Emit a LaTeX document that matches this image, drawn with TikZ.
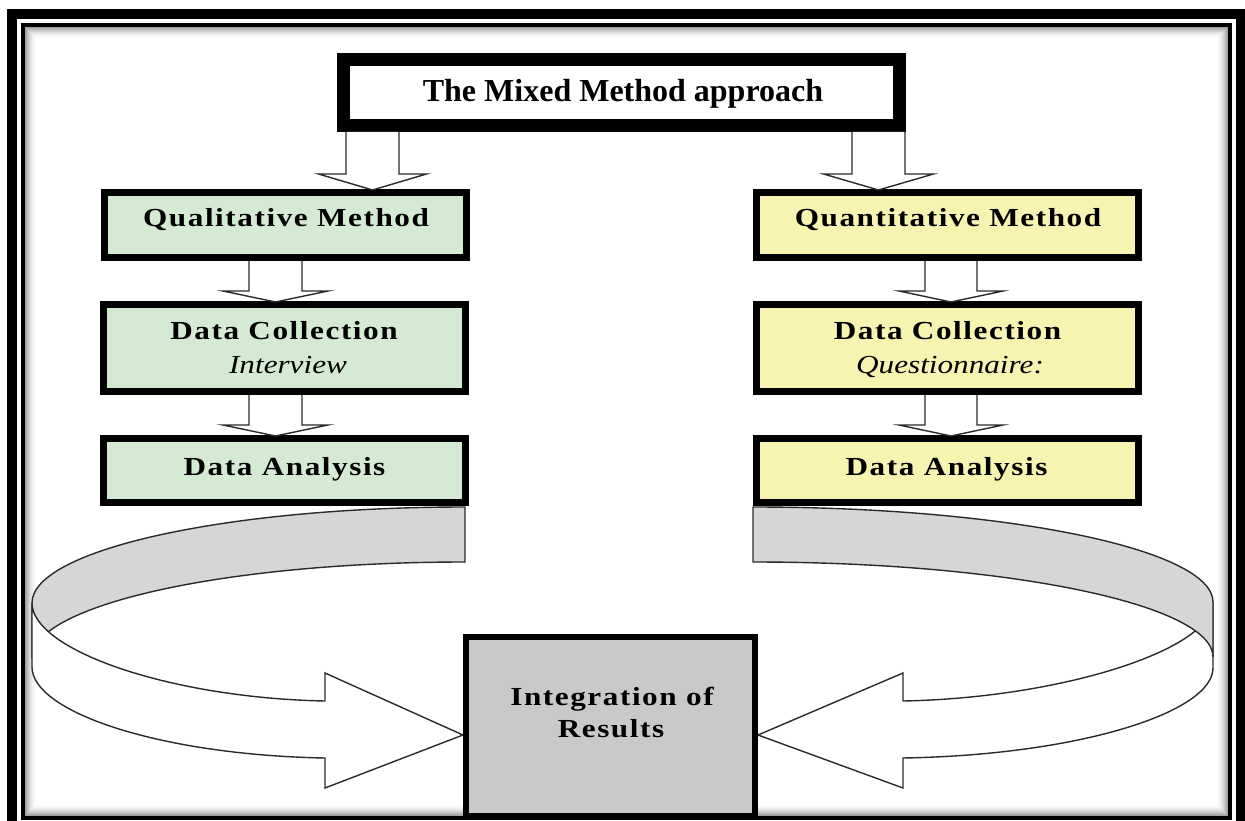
\documentclass[tikz,border=0pt]{standalone}
\usepackage{fontspec}
\setmainfont{Liberation Serif}
\newfontfamily\labelfont[LetterSpace=6, FakeStretch=1.2]{Liberation Serif}
\newfontfamily\notefont[FakeStretch=1.2]{Liberation Serif}
\usetikzlibrary{calc}

\definecolor{qualfill}{HTML}{D4EAD2}
\definecolor{quantfill}{HTML}{F7F3B0}
\definecolor{intfill}{HTML}{C9C9C9}
\definecolor{bandgrey}{HTML}{D6D6D6}
\definecolor{edge}{HTML}{2A2A2A}

\tikzset{
  stepbox/.style={draw=black, line width=7pt, inner sep=0pt},
  qualbox/.style={stepbox, fill=qualfill, minimum width=362pt},
  quantbox/.style={stepbox, fill=quantfill, minimum width=382pt},
  title/.style={anchor=base, inner sep=0pt, font=\labelfont\bfseries\fontsize{26}{32}\selectfont},
  note/.style={anchor=base, inner sep=0pt, font=\notefont\itshape\fontsize{26}{32}\selectfont},
  blockarrow/.style={draw=edge, line width=1.4pt, fill=white, line join=miter},
  ribbon/.style={draw=edge, line width=1.4pt, line join=miter},
}

% hollow block arrow from the bottom of #1 to the top of #2, centred at x=#3,
% half shaft width #4, half head width #5, head length #6
\newcommand\blockdown[6]{%
  \draw[blockarrow] let \p1=(#1.south), \p2=(#2.north) in
    ({#3pt-#4pt},\y1) -- ({#3pt-#4pt},{\y2+#6pt-1pt}) -- ({#3pt-#5pt},{\y2+#6pt-1pt})
    -- (#3pt,{\y2-1pt}) -- ({#3pt+#5pt},{\y2+#6pt-1pt}) -- ({#3pt+#4pt},{\y2+#6pt-1pt})
    -- ({#3pt+#4pt},\y1);
}

\begin{document}
\begin{tikzpicture}[x=1pt,y=-1pt]
\useasboundingbox (0,0) rectangle (1245,821);
\fill[white] (0,0) rectangle (1245,821);

% inner shadow of the page frame
\foreach \i in {0,...,11}{
  \pgfmathsetmacro\shade{38*(1-\i/12)^2}
  \draw[line width=1.2pt, draw=black!\shade] (25.5+\i,27.5+\i) rectangle (1227.5-\i,815-\i);
}
% double frame
\draw[line width=4pt] (23,25) rectangle (1230,817.5);
\draw[line width=10pt] (12,14.5) rectangle (1241,830);

% curved ribbon arrows into the integration box
\draw[ribbon, fill=bandgrey] (465,507) .. controls (226,507) and (32,550) .. (32,603)
  -- (32,658) .. controls (32,605) and (226,562) .. (465,562) -- cycle;
\draw[ribbon, fill=white] (32,603) .. controls (32,650) and (170,698) .. (325,701)
  -- (325,673) -- (463,735) -- (325,788) -- (325,758)
  .. controls (160,755) and (32,712) .. (32,667) -- cycle;

\draw[ribbon, fill=white] (1213,602) .. controls (1213,650) and (1060,698) .. (903,701)
  -- (903,673) -- (758,735) -- (903,788) -- (903,758)
  .. controls (1080,755) and (1213,712) .. (1213,668) -- cycle;
\draw[ribbon, fill=bandgrey] (753,507) .. controls (1007,507) and (1213,549.5) .. (1213,602)
  -- (1213,657) .. controls (1213,604.5) and (1007,562) .. (753,562) -- cycle;

% boxes
\node[draw=black, line width=13pt, fill=white, inner sep=0pt,
      minimum width=556pt, minimum height=66pt] (mixed) at (621.5,92.5) {};

\node[qualbox, minimum height=65pt] (qual) at (285,225) {};
\node[qualbox, minimum height=87pt] (dcl) at (284.5,348) {};
\node[qualbox, minimum height=64pt] (dal) at (284.5,470.5) {};

\node[quantbox, minimum height=65pt] (quant) at (947.5,225) {};
\node[quantbox, minimum height=87pt] (dcr) at (947.5,348) {};
\node[quantbox, minimum height=64pt] (dar) at (947.5,470.5) {};

\node[stepbox, line width=6pt, fill=intfill, minimum width=289pt,
      minimum height=179pt] (integ) at (610.5,726.5) {};

% straight block arrows
\blockdown{mixed}{qual}{372.5}{26.5}{54}{16}
\blockdown{mixed}{quant}{878.5}{26.5}{55}{16}
\blockdown{qual}{dcl}{275.5}{26.5}{52.5}{11}
\blockdown{dcl}{dal}{275.5}{26.5}{52.5}{11}
\blockdown{quant}{dcr}{951}{26}{52}{11}
\blockdown{dcr}{dar}{951}{26}{52}{11}

% labels
\node[anchor=base, inner sep=0pt, font=\bfseries\fontsize{32}{38}\selectfont]
  (mixedtxt) at (623,102) {The Mixed Method approach};
\node[title] (qualtxt) at (286,227) {Qualitative Method};
\node[title] (dcltxt) at (284,339) {Data Collection};
\node[note] (dclnote) at (288,373) {Interview};
\node[title] (daltxt) at (284.5,475) {Data Analysis};

\node[title] (quanttxt) at (948,227) {Quantitative Method};
\node[title] (dcrtxt) at (947.5,339) {Data Collection};
\node[note] (dcrnote) at (950,373) {Questionnaire:};
\node[title] (dartxt) at (946.5,475) {Data Analysis};

\node[title] (integtxt) at (612,705) {Integration of};
\node[title] (resultstxt) at (611,737) {Results};
\end{tikzpicture}
\end{document}
